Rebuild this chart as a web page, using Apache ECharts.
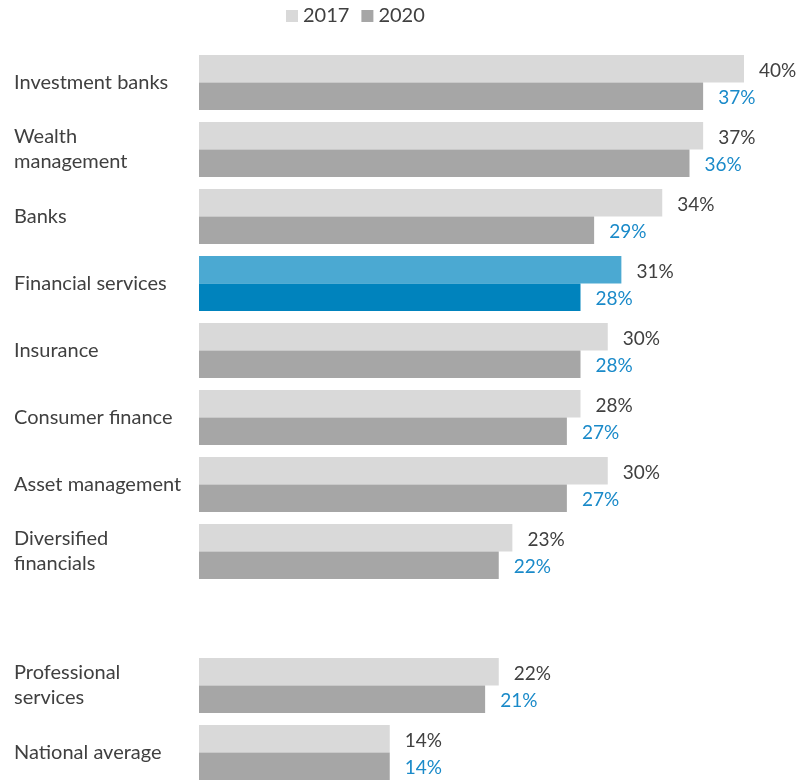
<!DOCTYPE html>
<html>
<head>
<meta charset="utf-8">
<script src="https://cdn.jsdelivr.net/npm/echarts@6/dist/echarts.min.js"></script>
<style>
  html, body { margin: 0; padding: 0; background: #fff; }
  #chart { width: 808px; height: 781px; }
</style>
</head>
<body>
<div id="chart"></div>
<script>
// Sectors (blank entry leaves a spacer row between the two groups)
const categories = [
  'Investment banks',
  'Wealth\nmanagement',
  'Banks',
  'Financial services',
  'Insurance',
  'Consumer finance',
  'Asset management',
  'Diversified\nfinancials',
  '',
  'Professional\nservices',
  'National average'
];
const years = ['2017', '2020'];
const values2017 = [40, 37, 34, 31, 30, 28, 30, 23, null, 22, 14];
const values2020 = [37, 36, 29, 28, 28, 27, 27, 22, null, 21, 14];
const highlightCategory = 'Financial services';

const FONT = 'Lato, "Open Sans", sans-serif';
const TEXT = '#404040';
const BLUE_TEXT = '#1a8ac9';

function buildData(values, baseColor, highlightColor) {
  return values.map((v, i) => {
    if (v === null) return '-';
    if (categories[i] === highlightCategory) {
      return { value: v, itemStyle: { color: highlightColor } };
    }
    return { value: v, itemStyle: { color: baseColor } };
  });
}

const chart = echarts.init(document.getElementById('chart'), null, { renderer: 'canvas' });

const valueLabel = color => ({
  show: true,
  position: 'right',
  distance: 15,
  offset: [0, 2],
  formatter: p => p.value + '%',
  fontFamily: FONT,
  fontSize: 19,
  color: color
});

chart.setOption({
  animation: false,
  backgroundColor: '#ffffff',
  textStyle: { fontFamily: FONT },
  legend: {
    data: [
      { name: years[0], itemStyle: { color: '#d9d9d9' } },
      { name: years[1], itemStyle: { color: '#a6a6a6' } }
    ],
    left: 281,
    top: 1,
    icon: 'rect',
    itemWidth: 12,
    itemHeight: 12,
    itemGap: 12,
    textStyle: { fontFamily: FONT, fontSize: 20, color: TEXT }
  },
  // category ticks sit on the row centres: first row at the top edge, last at the bottom edge
  grid: {
    left: 199,
    width: 545,
    top: 82.5,
    height: 670,
    containLabel: false
  },
  xAxis: {
    type: 'value',
    min: 0,
    max: 40,
    show: false
  },
  yAxis: {
    type: 'category',
    data: categories,
    inverse: true,
    boundaryGap: false,
    axisLine: { show: false },
    axisTick: { show: false },
    splitLine: { show: false },
    axisLabel: {
      align: 'left',
      margin: 185,
      fontFamily: FONT,
      fontSize: 20,
      lineHeight: 25,
      color: TEXT
    }
  },
  series: [
    {
      name: years[0],
      type: 'bar',
      clip: false,
      data: buildData(values2017, '#d9d9d9', '#4ba9d2'),
      barWidth: 27.5,
      barGap: '0%',
      label: valueLabel(TEXT)
    },
    {
      name: years[1],
      type: 'bar',
      clip: false,
      data: buildData(values2020, '#a6a6a6', '#0083bd'),
      barWidth: 27.5,
      barGap: '0%',
      label: valueLabel(BLUE_TEXT)
    }
  ]
});
</script>
</body>
</html>
